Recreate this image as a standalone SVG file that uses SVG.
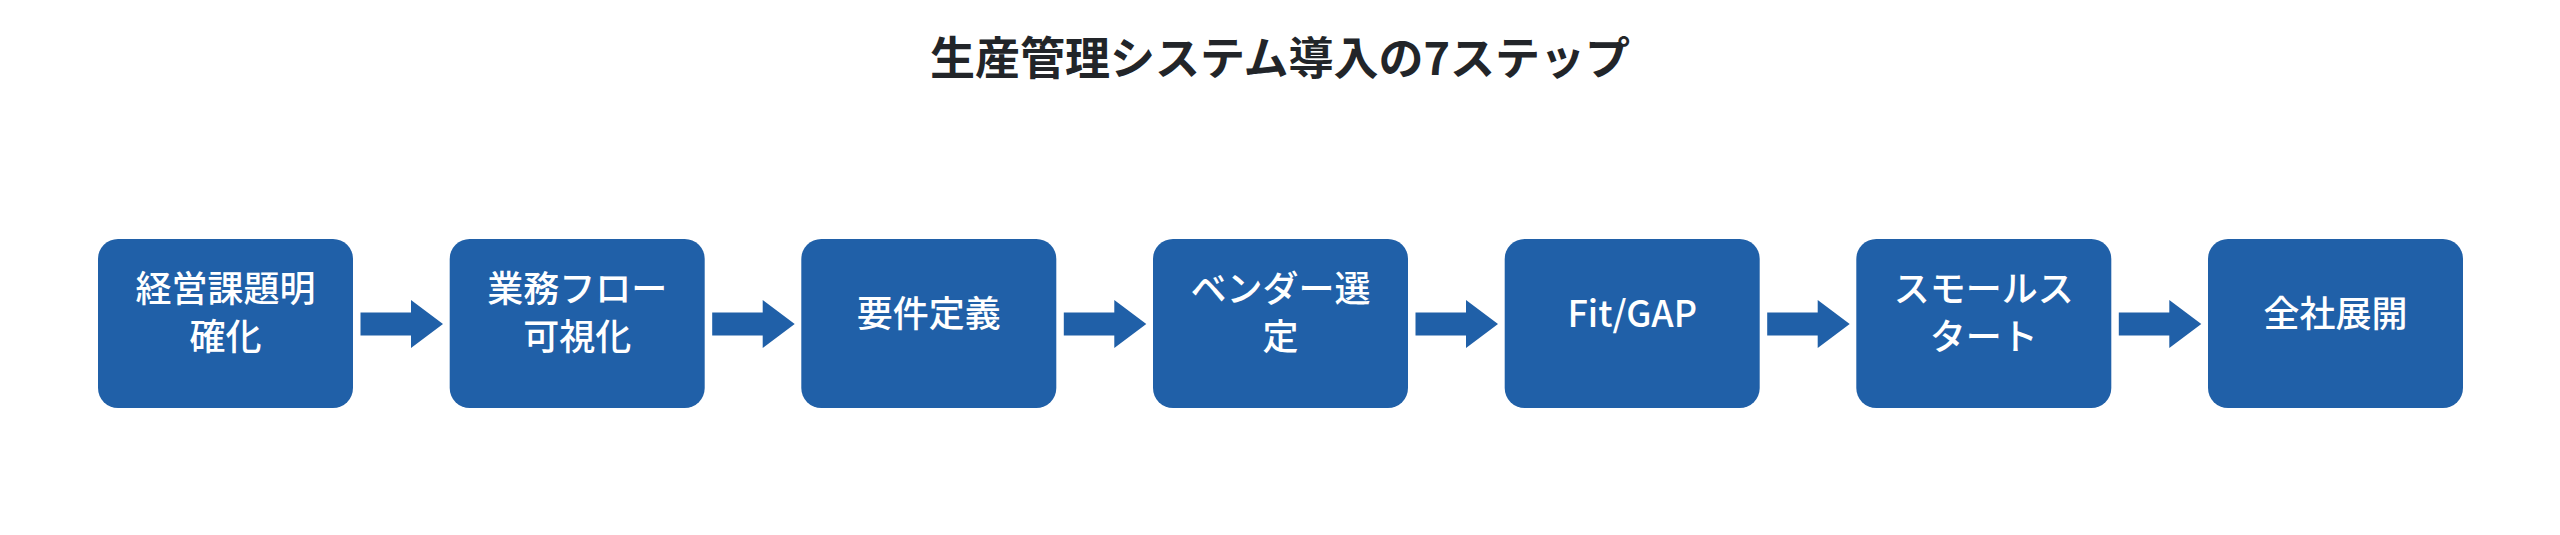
<svg xmlns="http://www.w3.org/2000/svg" xmlns:xlink="http://www.w3.org/1999/xlink" width="2560" height="535" viewBox="0 0 2560 535">
  <defs>
    <style>
      .box { fill: #2060a8; }
      .lbl { fill: #ffffff; font-family: "Noto Sans CJK JP", "Noto Sans", sans-serif; font-size: 36px; font-weight: 500; text-anchor: middle; }
      .title { fill: #222529; font-family: "Noto Sans CJK JP", "Noto Sans", sans-serif; font-size: 45px; font-weight: 700; text-anchor: middle; }
      .arrow { fill: #2060a8; }
    </style>
    <path id="arrowShape" d="M0,-11.5 H50.5 V-24 L82.5,0 L50.5,24 V11.5 H0 Z"/>
  </defs>
  <rect width="2560" height="535" fill="#ffffff"/>
  <text class="title" x="1280" y="75">生産管理システム導入の7ステップ</text>

  <g id="connectors">
    <use href="#arrowShape" xlink:href="#arrowShape" class="arrow" transform="translate(360.5,324)"/>
    <use href="#arrowShape" xlink:href="#arrowShape" class="arrow" transform="translate(712.2,324)"/>
    <use href="#arrowShape" xlink:href="#arrowShape" class="arrow" transform="translate(1063.8,324)"/>
    <use href="#arrowShape" xlink:href="#arrowShape" class="arrow" transform="translate(1415.5,324)"/>
    <use href="#arrowShape" xlink:href="#arrowShape" class="arrow" transform="translate(1767.2,324)"/>
    <use href="#arrowShape" xlink:href="#arrowShape" class="arrow" transform="translate(2118.8,324)"/>
  </g>

  <g id="step1">
    <rect class="box" x="98" y="239" width="255" height="169" rx="20" ry="20"/>
    <text class="lbl" x="225.5" y="302">経営課題明</text>
    <text class="lbl" x="225.5" y="350">確化</text>
  </g>
  <g id="step2">
    <rect class="box" x="449.7" y="239" width="255" height="169" rx="20" ry="20"/>
    <text class="lbl" x="577.2" y="302">業務フロー</text>
    <text class="lbl" x="577.2" y="350">可視化</text>
  </g>
  <g id="step3">
    <rect class="box" x="801.3" y="239" width="255" height="169" rx="20" ry="20"/>
    <text class="lbl" x="928.8" y="327">要件定義</text>
  </g>
  <g id="step4">
    <rect class="box" x="1153" y="239" width="255" height="169" rx="20" ry="20"/>
    <text class="lbl" x="1280.5" y="302">ベンダー選</text>
    <text class="lbl" x="1280.5" y="350">定</text>
  </g>
  <g id="step5">
    <rect class="box" x="1504.7" y="239" width="255" height="169" rx="20" ry="20"/>
    <text class="lbl" x="1632.2" y="327">Fit/GAP</text>
  </g>
  <g id="step6">
    <rect class="box" x="1856.3" y="239" width="255" height="169" rx="20" ry="20"/>
    <text class="lbl" x="1983.8" y="302">スモールス</text>
    <text class="lbl" x="1983.8" y="350">タート</text>
  </g>
  <g id="step7">
    <rect class="box" x="2208" y="239" width="255" height="169" rx="20" ry="20"/>
    <text class="lbl" x="2335.5" y="327">全社展開</text>
  </g>
</svg>
